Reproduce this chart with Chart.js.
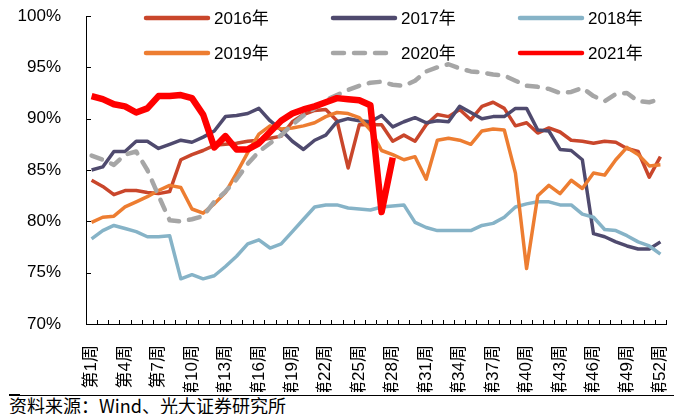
<!DOCTYPE html>
<html>
<head>
<meta charset="utf-8">
<script src="https://cdn.jsdelivr.net/npm/chart.js@4.4.0/dist/chart.umd.min.js"></script>
<style>
    html, body { margin: 0; padding: 0; background: #fff; }
    #wrap { position: relative; width: 674px; height: 414px; overflow: hidden; }
    #chart { position: absolute; left: 0; top: 0; }
    #rule { position: absolute; left: 9px; right: 0; top: 395px; height: 1px; background: #000; }
    #rule-mark { position: absolute; left: 9px; top: 394px; width: 11px; height: 2px; background: #000; }
    #source { position: absolute; left: 9px; top: 396px; font: 18px "Noto Sans CJK SC", "Liberation Sans", sans-serif; line-height: 18px; color: #000; white-space: nowrap; }
</style>
</head>
<body>
<div id="wrap">
    <canvas id="chart" width="674" height="392"></canvas>
    <div id="rule"></div>
    <div id="rule-mark"></div>
    <div id="source">资料来源：Wind、光大证券研究所</div>
</div>
<script>
// 每周数据（%）
const weeks = Array.from({ length: 52 }, (_, i) => "第" + (i + 1) + "周");
const seriesNames = ["2016年", "2017年", "2018年", "2019年", "2020年", "2021年"];
const seriesColors = ["#C9462B", "#4F4A6E", "#86B3C7", "#ED7D31", "#A6A6A6", "#FF0000"];

const y2016 = [84.0, 83.4, 82.6, 83.0, 83.0, 82.8, 82.7, 82.9, 86.0, 86.5, 86.9, 87.4, 87.5,
    87.6, 87.8, 87.9, 88.1, 88.3, 89.7, 90.4, 90.8, 90.9, 89.8, 85.2, 89.4, 89.4,
    89.4, 87.8, 88.4, 87.8, 89.4, 90.4, 90.2, 90.9, 89.9, 91.2, 91.6, 91.0, 89.3,
    89.6, 88.6, 89.1, 88.7, 87.9, 87.8, 87.6, 87.8, 87.7, 87.1, 86.8, 84.3, 86.3];
const y2017 = [85.0, 85.3, 86.8, 86.8, 87.8, 87.8, 87.1, 87.5, 87.9, 87.7, 88.2, 88.8, 90.2,
    90.3, 90.5, 91.0, 89.8, 88.9, 87.8, 87.0, 87.9, 88.4, 89.7, 90.0, 89.8, 89.7,
    90.3, 89.2, 89.7, 90.1, 89.6, 89.8, 89.7, 91.2, 90.6, 90.0, 90.2, 90.2, 91.0,
    91.0, 88.9, 88.8, 87.0, 86.9, 86.0, 78.8, 78.5, 78.0, 77.6, 77.3, 77.3, 78.0];
const y2018 = [78.3, 79.1, 79.6, 79.3, 79.0, 78.5, 78.5, 78.6, 74.4, 74.8, 74.4, 74.7, 75.6,
    76.6, 77.8, 78.2, 77.4, 77.8, 79.0, 80.2, 81.4, 81.6, 81.6, 81.3, 81.2, 81.1,
    81.4, 81.5, 81.6, 79.9, 79.4, 79.1, 79.1, 79.1, 79.1, 79.6, 79.8, 80.4, 81.4,
    81.7, 81.9, 81.9, 81.6, 81.6, 80.7, 80.4, 79.2, 79.1, 78.6, 78.0, 77.6, 76.8];
const y2019 = [79.9, 80.4, 80.5, 81.4, 81.9, 82.4, 83.0, 83.5, 83.3, 81.2, 80.8, 81.7, 82.8,
    84.7, 86.7, 88.5, 89.3, 89.0, 89.1, 89.3, 89.6, 90.2, 90.6, 90.5, 90.1, 88.9,
    86.9, 86.5, 86.0, 86.3, 84.1, 87.9, 88.1, 87.9, 87.5, 88.8, 89.0, 88.9, 84.7,
    75.4, 82.5, 83.5, 82.7, 84.0, 83.2, 84.7, 84.5, 86.0, 87.2, 86.5, 85.4, 85.5];
const y2020 = [86.4, 86.0, 85.5, 86.5, 86.8, 85.0, 82.5, 80.1, 80.0, 80.2, 80.5, 81.9, 82.9,
    84.1, 85.6, 86.8, 87.6, 88.4, 89.4, 90.3, 91.0, 91.8, 92.3, 92.8, 93.2, 93.5,
    93.6, 93.3, 93.2, 93.7, 94.6, 95.0, 95.3, 94.9, 94.6, 94.5, 94.3, 94.2, 93.7,
    93.2, 93.1, 92.9, 92.5, 92.6, 93.0, 92.2, 91.7, 92.4, 92.5, 91.7, 91.6, 91.9];
const y2021 = [92.2, 91.9, 91.4, 91.2, 90.6, 91.0, 92.2, 92.2, 92.3, 92.0, 90.4, 87.2, 88.3,
    87.0, 87.0, 87.6, 88.7, 89.8, 90.5, 90.9, 91.2, 91.6, 92.0, 91.9, 91.8, 91.3,
    80.9, 86.2];

const yTicksMin = 70;
const yTicksMax = 100;
const yTicksStep = 5;

const fontFamily = '"Liberation Sans", "Noto Sans CJK SC", sans-serif';

// 图内刻度线（朝内）
const insideTicks = {
    id: "insideTicks",
    afterDraw(chart) {
        const { ctx, scales: { x, y } } = chart;
        ctx.save();
        ctx.strokeStyle = "#000";
        ctx.lineWidth = 1;
        ctx.beginPath();
        y.ticks.forEach(t => {
            const py = Math.round(y.getPixelForValue(t.value)) + 0.5;
            ctx.moveTo(x.left, py);
            ctx.lineTo(x.left + 5, py);
        });
        const step = x.getPixelForValue(1) - x.getPixelForValue(0);
        const x0 = x.getPixelForValue(0);
        for (let i = 0; i <= weeks.length; i++) {
            const px = Math.round(x0 + (i - 0.5) * step) + 0.5;
            ctx.moveTo(px, y.bottom);
            ctx.lineTo(px, y.bottom - 4);
        }
        ctx.stroke();
        ctx.restore();
    }
};

// 图例：两行三列，压在绘图区上方
const legendCols = [146, 333, 520];
const legendRows = [18, 53];
const legendLineLen = 62;

const overlayLegend = {
    id: "overlayLegend",
    afterDraw(chart) {
        const ctx = chart.ctx;
        ctx.save();
        chart.data.datasets.forEach((ds, i) => {
            const lx = legendCols[i % 3];
            const ly = legendRows[Math.floor(i / 3)];
            ctx.beginPath();
            ctx.strokeStyle = ds.borderColor;
            ctx.lineWidth = 4.5;
            ctx.lineCap = "round";
            ctx.setLineDash(ds.borderDash || []);
            ctx.moveTo(lx, ly);
            ctx.lineTo(lx + legendLineLen, ly);
            ctx.stroke();
            ctx.setLineDash([]);
            ctx.fillStyle = "#000";
            ctx.font = "17px " + fontFamily;
            ctx.textBaseline = "middle";
            ctx.textAlign = "left";
            ctx.fillText(ds.label, lx + legendLineLen + 6, ly + 1);
        });
        ctx.restore();
    }
};

const allSeries = [y2016, y2017, y2018, y2019, y2020, y2021];

new Chart(document.getElementById("chart"), {
    type: "line",
    data: {
        labels: weeks,
        datasets: allSeries.map((values, i) => ({
            label: seriesNames[i],
            data: values,
            borderColor: seriesColors[i],
            backgroundColor: seriesColors[i],
            borderWidth: i === 5 ? 6.5 : (i === 4 ? 4.5 : 3.5),
            borderDash: i === 4 ? [11, 10] : [],
            borderCapStyle: i === 4 ? "round" : "butt",
            borderJoinStyle: "round",
            pointRadius: 0,
            tension: 0,
            spanGaps: false,
            order: 5 - i
        }))
    },
    options: {
        responsive: false,
        animation: false,
        layout: { padding: { top: 16, right: 8, left: 0, bottom: 0 } },
        plugins: {
            legend: { display: false },
            tooltip: { enabled: false }
        },
        scales: {
            x: {
                type: "category",
                offset: true,
                grid: { display: false },
                border: { display: true, color: "#000", width: 1 },
                ticks: {
                    autoSkip: false,
                    minRotation: 90,
                    maxRotation: 90,
                    padding: 13,
                    color: "#000",
                    font: { family: fontFamily, size: 17 },
                    callback: function (value, index) {
                        return index % 3 === 0 ? this.getLabelForValue(value) : "";
                    }
                },
                afterFit: scale => {
                    scale.height = 68;
                    scale.paddingLeft = 0;
                    scale.paddingRight = 0;
                }
            },
            y: {
                min: yTicksMin,
                max: yTicksMax,
                grid: { display: false },
                border: { display: true, color: "#000", width: 1 },
                ticks: {
                    stepSize: yTicksStep,
                    padding: 17,
                    color: "#000",
                    font: { family: fontFamily, size: 17 },
                    callback: value => value + "%"
                },
                afterFit: scale => {
                    scale.width = 86;
                    scale.paddingTop = 0;
                    scale.paddingBottom = 0;
                }
            }
        }
    },
    plugins: [insideTicks, overlayLegend]
});
</script>
</body>
</html>
